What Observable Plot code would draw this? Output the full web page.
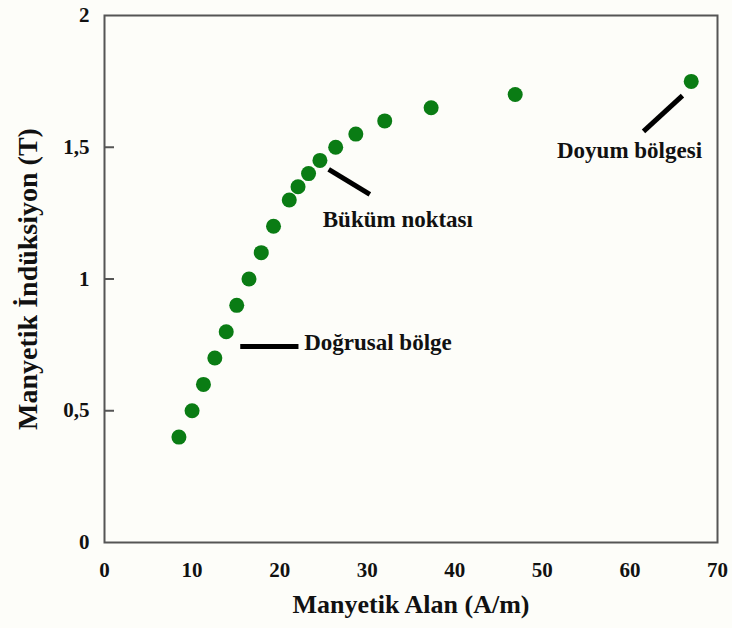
<!DOCTYPE html>
<html>
<head>
<meta charset="utf-8">
<script src="https://cdn.jsdelivr.net/npm/d3@7"></script>
<script src="https://cdn.jsdelivr.net/npm/@observablehq/plot@0.6"></script>
<style>
  html, body { margin: 0; padding: 0; background: #fdfdf9; }
  #chart svg { display: block; }
</style>
</head>
<body>
<div id="chart"></div>
<script>
// Magnetization (B–H) curve: field strength H (A/m) vs. flux density B (T)
const fieldH = [8.5, 10, 11.3, 12.6, 13.9, 15.1, 16.5, 17.9, 19.3, 21.1, 22.1, 23.3, 24.6, 26.4, 28.7, 32.0, 37.3, 46.9, 67.0];
const inductionB = [0.40, 0.50, 0.60, 0.70, 0.80, 0.90, 1.00, 1.10, 1.20, 1.30, 1.35, 1.40, 1.45, 1.50, 1.55, 1.60, 1.65, 1.70, 1.75];

const xTicks = [0, 10, 20, 30, 40, 50, 60, 70];
const yTicks = [0, 0.5, 1, 1.5, 2];
const yInnerTicks = [0.5, 1, 1.5];

// Region annotations: pointer segments and their labels (data units)
const pointerX1 = [25.6, 15.5, 66.0];
const pointerY1 = [1.416, 0.744, 1.696];
const pointerX2 = [30.3, 22.15, 61.55];
const pointerY2 = [1.321, 0.744, 1.56];
const labelText = ["Büküm noktası", "Doğrusal bölge", "Doyum bölgesi"];
const labelX = [33.5, 22.8, 59.95];
const labelY = [1.226, 0.759, 1.488];
const labelAnchor = ["middle", "start", "middle"];

const points = fieldH.map((h, i) => ({h, b: inductionB[i]}));
const pointers = pointerX1.map((x1, i) => ({x1, y1: pointerY1[i], x2: pointerX2[i], y2: pointerY2[i]}));
const labels = labelText.map((t, i) => ({t, x: labelX[i], y: labelY[i], a: labelAnchor[i]}));

const W = 732, H = 628;
const mL = 104, mR = 15, mT = 15, mB = 86;
const innerW = W - mL - mR;

// one text mark per anchor so each label keeps its own alignment
const labelMarks = ["start", "middle", "end"].map(anchor =>
  Plot.text(labels.filter(d => d.a === anchor), {
    x: "x", y: "y", text: "t", textAnchor: anchor, fontSize: 23, fill: "#111"
  })
);

const chart = Plot.plot({
  width: W,
  height: H,
  marginLeft: mL,
  marginRight: mR,
  marginTop: mT,
  marginBottom: mB,
  style: {
    background: "#fdfdf9",
    fontFamily: "'Liberation Serif', 'Times New Roman', serif",
    fontWeight: "bold",
    color: "#111"
  },
  x: {domain: [0, 70]},
  y: {domain: [0, 2]},
  marks: [
    Plot.axisX(xTicks, {tickSize: 0, tickPadding: 20, fontSize: 21, label: null}),
    Plot.axisY(yTicks, {tickSize: 0, tickPadding: 15, fontSize: 21, label: null,
      tickFormat: d => String(d).replace(".", ",")}),
    Plot.tickY(yInnerTicks, {y: d => d, insetRight: innerW - 10, stroke: "#555", strokeWidth: 2}),
    Plot.frame({stroke: "#555", strokeWidth: 2}),
    Plot.dot(points, {x: "h", y: "b", r: 7.5, fill: "#0a7c14", stroke: "none"}),
    Plot.link(pointers, {x1: "x1", y1: "y1", x2: "x2", y2: "y2", stroke: "#000", strokeWidth: 5}),
    ...labelMarks,
    Plot.text(["Manyetik Alan (A/m)"], {frameAnchor: "bottom", textAnchor: "middle", dy: 70, fontSize: 26, fill: "#111"}),
    Plot.text(["Manyetik İndüksiyon (T)"], {frameAnchor: "left", textAnchor: "middle", dx: -76, rotate: -90, fontSize: 28, fill: "#111"})
  ]
});

document.getElementById("chart").append(chart);
</script>
</body>
</html>
